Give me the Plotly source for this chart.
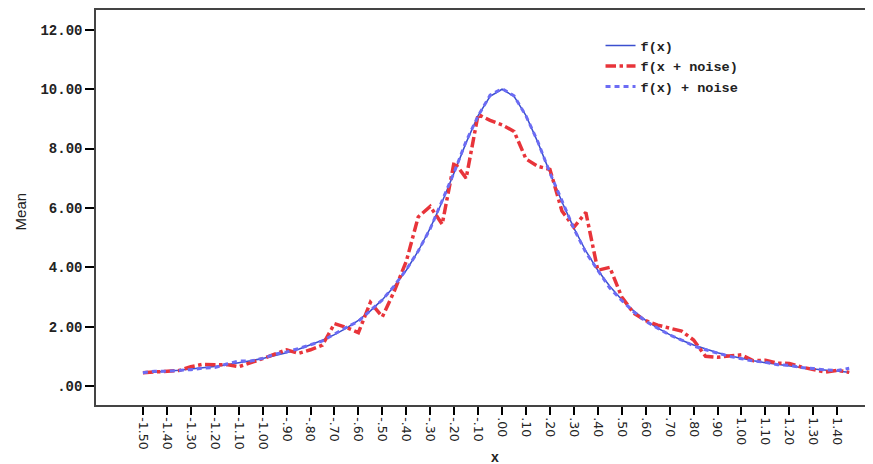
import plotly.graph_objects as go

# Categories (x at 0.05 steps)
x_vals = [-1.50, -1.45, -1.40, -1.35, -1.30, -1.25, -1.20, -1.15, -1.10, -1.05,
          -1.00, -0.95, -0.90, -0.85, -0.80, -0.75, -0.70, -0.65, -0.60, -0.55,
          -0.50, -0.45, -0.40, -0.35, -0.30, -0.25, -0.20, -0.15, -0.10, -0.05,
          0.00, 0.05, 0.10, 0.15, 0.20, 0.25, 0.30, 0.35, 0.40, 0.45,
          0.50, 0.55, 0.60, 0.65, 0.70, 0.75, 0.80, 0.85, 0.90, 0.95,
          1.00, 1.05, 1.10, 1.15, 1.20, 1.25, 1.30, 1.35, 1.40, 1.45]

f_x = [0.44, 0.46, 0.50, 0.53, 0.57, 0.62, 0.66, 0.72, 0.78, 0.85,
       0.93, 1.02, 1.12, 1.24, 1.38, 1.54, 1.73, 1.95, 2.21, 2.53,
       2.91, 3.36, 3.90, 4.55, 5.32, 6.21, 7.19, 8.20, 9.11, 9.76,
       10.00, 9.76, 9.11, 8.20, 7.19, 6.21, 5.32, 4.55, 3.90, 3.36,
       2.91, 2.53, 2.21, 1.95, 1.73, 1.54, 1.38, 1.24, 1.12, 1.02,
       0.93, 0.85, 0.78, 0.72, 0.66, 0.62, 0.57, 0.53, 0.50, 0.46]

f_x_noise_in = [0.45, 0.48, 0.51, 0.52, 0.65, 0.73, 0.72, 0.72, 0.65, 0.77,
                0.92, 1.07, 1.22, 1.10, 1.22, 1.38, 2.10, 1.97, 1.80, 2.82,
                2.33, 3.20, 4.20, 5.70, 6.05, 5.45, 7.55, 7.00, 9.15, 8.95,
                8.80, 8.58, 7.65, 7.40, 7.30, 5.90, 5.35, 5.85, 3.90, 4.00,
                3.00, 2.45, 2.20, 2.05, 1.95, 1.85, 1.55, 1.00, 0.97, 1.00,
                1.05, 0.85, 0.87, 0.77, 0.76, 0.64, 0.56, 0.47, 0.53, 0.46]

f_x_plus_noise = [0.45, 0.50, 0.50, 0.52, 0.55, 0.60, 0.62, 0.74, 0.84, 0.84,
                  0.93, 1.07, 1.15, 1.26, 1.40, 1.52, 1.75, 1.98, 2.18, 2.55,
                  2.90, 3.38, 3.92, 4.55, 5.30, 6.25, 7.20, 8.25, 9.10, 9.80,
                  10.02, 9.78, 9.10, 8.22, 7.18, 6.25, 5.30, 4.50, 3.88, 3.30,
                  2.88, 2.50, 2.18, 1.95, 1.72, 1.55, 1.35, 1.22, 1.10, 1.00,
                  0.92, 0.84, 0.80, 0.72, 0.70, 0.62, 0.59, 0.54, 0.52, 0.60]

x_tick_vals = [-1.5, -1.4, -1.3, -1.2, -1.1, -1.0, -0.9, -0.8, -0.7, -0.6,
               -0.5, -0.4, -0.3, -0.2, -0.1, 0.0, 0.1, 0.2, 0.3, 0.4,
               0.5, 0.6, 0.7, 0.8, 0.9, 1.0, 1.1, 1.2, 1.3, 1.4]
x_tick_text = ["-1.50", "-1.40", "-1.30", "-1.20", "-1.10", "-1.00", "-.90", "-.80",
               "-.70", "-.60", "-.50", "-.40", "-.30", "-.20", "-.10", ".00", ".10",
               ".20", ".30", ".40", ".50", ".60", ".70", ".80", ".90", "1.00",
               "1.10", "1.20", "1.30", "1.40"]
y_tick_vals = [0, 2, 4, 6, 8, 10, 12]
y_tick_text = [".00", "2.00", "4.00", "6.00", "8.00", "10.00", "12.00"]

fig = go.Figure()
fig.add_trace(go.Scatter(x=x_vals, y=f_x, mode="lines", name="f(x)",
                         line=dict(color="#3b4fcf", width=1.5)))
fig.add_trace(go.Scatter(x=x_vals, y=f_x_noise_in, mode="lines", name="f(x + noise)",
                         line=dict(color="#e8343a", width=3.5, dash="dashdot")))
fig.add_trace(go.Scatter(x=x_vals, y=f_x_plus_noise, mode="lines", name="f(x) + noise",
                         line=dict(color="#6c6cf4", width=3, dash="5px,4px")))

# The page body adds an 8px offset, so the figure is sized to fill the rest.
W, H = 865, 456
L, R, T, B = 88, 2, 2, 59
PW, PH = W - L - R, H - T - B

fig.update_layout(
    width=W, height=H,
    margin=dict(l=L, r=R, t=T, b=B, autoexpand=False),
    paper_bgcolor="white", plot_bgcolor="white",
    showlegend=True,
    legend=dict(x=0.651, y=0.949, xanchor="left", yanchor="top",
                bgcolor="rgba(0,0,0,0)", borderwidth=0,
                font=dict(family="Liberation Mono", size=13.5, color="#222222", weight="bold"),
                tracegroupgap=0, itemwidth=30),
    xaxis=dict(range=[-1.696, 1.541], tickmode="array", tickvals=x_tick_vals,
               ticktext=x_tick_text, tickangle=90, ticks="outside", ticklen=8,
               tickwidth=2, tickcolor="black", showgrid=False, zeroline=False,
               showline=True, linecolor="#444444", linewidth=1.5, mirror=True,
               automargin=False,
               tickfont=dict(family="DejaVu Sans", size=12.5, color="#222222")),
    yaxis=dict(range=[-0.64, 12.67], tickmode="array", tickvals=y_tick_vals,
               ticktext=y_tick_text, ticks="outside", ticklen=9, tickwidth=2,
               tickcolor="black", showgrid=False, zeroline=False,
               showline=True, linecolor="#444444", linewidth=1.5, mirror=True,
               automargin=False,
               tickfont=dict(family="Liberation Mono", size=14, color="#222222", weight="bold")),
    annotations=[
        dict(text="Mean", xref="paper", yref="paper", x=(12 - L) / PW, y=0.49,
             xanchor="center", yanchor="middle", textangle=-90, showarrow=False,
             font=dict(family="Liberation Sans", size=15, color="#222222")),
        dict(text="x", xref="paper", yref="paper", x=(487 - L) / PW,
             y=-(449 - (H - B)) / PH, xanchor="center", yanchor="middle",
             showarrow=False,
             font=dict(family="Liberation Sans", size=14, color="#222222", weight="bold")),
    ],
)

fig.write_html("out.html")
